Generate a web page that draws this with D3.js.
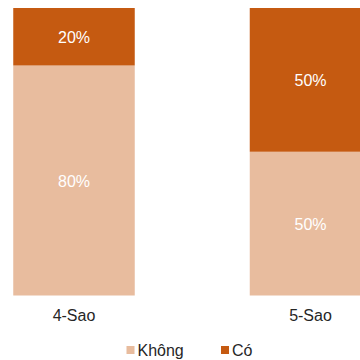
<!DOCTYPE html>
<meta charset="utf-8">
<script src="https://d3js.org/d3.v7.min.js"></script>
<style>
  body { margin: 0; }
  svg { font-family: "Liberation Sans", Arial, sans-serif; }
</style>
<div id="chart"></div>
<script>
    // Data
    const categories = ["4-Sao", "5-Sao"];
    const seriesNames = ["Không", "Có"];
    const khong = [80, 50];
    const co = [20, 50];
    const colors = ["#E8BC9E", "#C55A11"];

    const width = 360, height = 360;

    const svg = d3.select("#chart")
                .append("svg")
                .attr("width", width)
                .attr("height", height);

    // X scale: bar centers
    const x = d3.scalePoint()
                .domain(categories)
                .range([74, 310.5]);
    const barW = 121.5;

    // Y scale
    const y = d3.scaleLinear()
                .domain([0, 100])
                .range([295.5, 8]);

    const rows = categories.map((c, i) => ({cat: c, "Không": khong[i], "Có": co[i]}));
    const stacked = d3.stack().keys(seriesNames)(rows);

    const color = d3.scaleOrdinal().domain(seriesNames).range(colors);

    const groups = svg.append("g")
        .selectAll("g")
        .data(stacked)
        .join("g")
        .attr("fill", d => color(d.key));

    groups.selectAll("rect")
        .data(d => d)
        .join("rect")
            .attr("x", d => x(d.data.cat) - barW / 2)
            .attr("y", d => y(d[1]))
            .attr("width", barW)
            .attr("height", d => y(d[0]) - y(d[1]));

    groups.selectAll("text")
        .data(d => d)
        .join("text")
            .attr("x", d => x(d.data.cat))
            .attr("y", d => (y(d[0]) + y(d[1])) / 2 + 6)
            .attr("text-anchor", "middle")
            .attr("fill", "#ffffff")
            .style("font-size", "16px")
            .text(d => (d[1] - d[0]) + "%");

    // Category labels
    svg.append("g")
        .selectAll("text")
        .data(categories)
        .join("text")
            .attr("x", d => x(d))
            .attr("y", 321)
            .attr("text-anchor", "middle")
            .attr("fill", "#262626")
            .style("font-size", "16px")
            .text(d => d);

    // Legend
    const legendX = [126.5, 221];
    const legend = svg.append("g")
        .selectAll("g")
        .data(seriesNames)
        .join("g")
        .attr("transform", (d, i) => `translate(${legendX[i]}, 346)`);

    legend.append("rect")
        .attr("width", 8)
        .attr("height", 8)
        .attr("fill", d => color(d));

    legend.append("text")
        .attr("x", 11)
        .attr("y", 9.5)
        .attr("fill", "#262626")
        .style("font-size", "16px")
        .text(d => d);
</script>
